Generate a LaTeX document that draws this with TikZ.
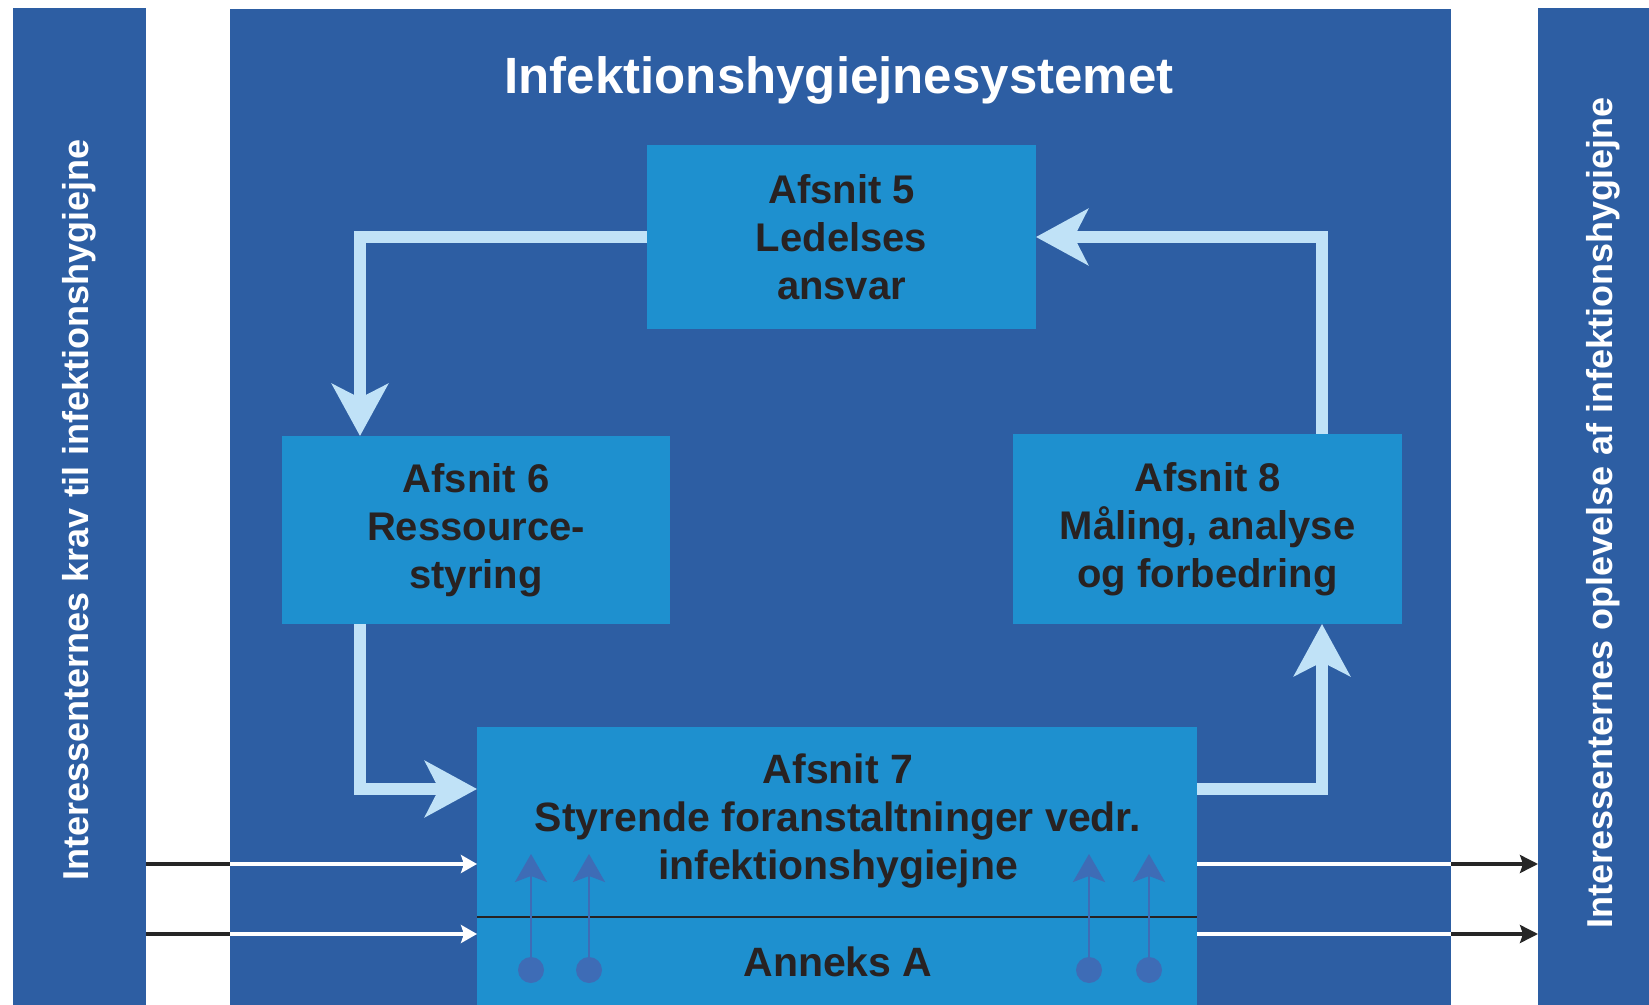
\documentclass[tikz,border=0pt]{standalone}
\usepackage{fontspec}
\setmainfont{Liberation Sans}
\usetikzlibrary{arrows.meta}
\definecolor{darkbg}{RGB}{45,94,163}
\definecolor{boxblue}{RGB}{30,144,207}
\definecolor{arrowlight}{RGB}{192,226,247}
\definecolor{txtdark}{RGB}{40,34,34}
\definecolor{dotblue}{RGB}{62,108,182}
\tikzset{
  panel/.style={fill=darkbg, draw=none, inner sep=0pt, outer sep=0pt},
  secbox/.style={fill=boxblue, draw=none, inner sep=0pt, outer sep=0pt, align=center,
    text=txtdark, font=\bfseries\fontsize{20pt}{24pt}\selectfont},
  sectxt/.style={inner sep=0pt, align=center, text=txtdark, font=\bfseries\fontsize{20.5pt}{24pt}\selectfont},
  sidetxt/.style={inner sep=0pt, text=white, rotate=90, font=\bfseries\fontsize{18pt}{20pt}\selectfont},
  bigarrow/.style={draw=arrowlight, line width=6pt, -{Stealth[length=26pt,width=28pt,inset=7pt]}},
  whitearrow/.style={draw=white, line width=1.6pt, -{Stealth[length=8pt,width=9pt,inset=1.5pt]}},
  blackline/.style={draw=black!85, line width=1.6pt},
  blackarrow/.style={draw=black!85, line width=1.6pt, -{Stealth[length=9pt,width=9pt,inset=1.5pt]}},
  smallarrow/.style={draw=dotblue, line width=1pt, -{Stealth[length=14pt,width=16pt,inset=3pt]}},
  dotnode/.style={circle, fill=dotblue, inner sep=0pt, minimum size=13pt},
}
\begin{document}
\begin{tikzpicture}[x=0.5pt, y=-0.5pt]
\useasboundingbox (0,0) rectangle (1649,1005);
\fill[white] (0,0) rectangle (1649,1005);

% panels
\node[panel, minimum width=66.5pt, minimum height=498.5pt] (lb) at (79.5,506.5) {};
\node[panel, minimum width=610.5pt, minimum height=498pt] (mb) at (840.5,507) {};
\node[panel, minimum width=55.5pt, minimum height=498.5pt] (rb) at (1593.5,506.5) {};

% side texts
\node[sidetxt] (lt) at (79,510) {Interessenternes krav til infektionshygiejne};
\node[sidetxt] (rt) at (1603,513) {Interessenternes oplevelse af infektionshygiejne};

% title
\node[inner sep=0pt, text=white, font=\bfseries\fontsize{25.5pt}{28pt}\selectfont] (title) at (839,80) {Infektionshygiejnesystemet};

% section boxes
\node[secbox, minimum width=194.5pt, minimum height=92pt] (b5) at (841.5,237) {Afsnit 5\\Ledelses\\ansvar};
\node[secbox, minimum width=194pt, minimum height=94pt] (b6) at (476,530) {Afsnit 6\\Ressource-\\styring};
\node[secbox, minimum width=194.5pt, minimum height=95pt] (b8) at (1207.5,529) {Afsnit 8\\Måling, analyse\\og forbedring};
\node[secbox, minimum width=360pt, minimum height=139pt] (b7) at (837,866) {};
\node[sectxt] (t7) at (838,821) {Afsnit 7\\Styrende foranstaltninger vedr.\\infektionshygiejne};
\node[sectxt] (ta) at (838,962) {Anneks A};

% divider line in box 7
\coordinate (dv) at (0,917);
\draw[draw=txtdark, line width=1pt] (b7.west |- dv) -- (b7.east |- dv);

% helper coordinates
\coordinate (vl) at (360,0);
\coordinate (vr) at (1322,0);
\coordinate (hb) at (0,789);
\coordinate (t1) at (0,864);
\coordinate (t2) at (0,934);

% cycle arrows
\draw[bigarrow] (b5.west) -| (vl |- b6.north);
\draw[bigarrow] (vl |- b6.south) |- (hb -| b7.west);
\draw[bigarrow] (hb -| b7.east) -| (vr |- b8.south);
\draw[bigarrow] (vr |- b8.north) |- (b5.east);

% input arrows
\draw[blackline] (lb.east |- t1) -- (mb.west |- t1);
\draw[whitearrow] (mb.west |- t1) -- (b7.west |- t1);
\draw[blackline] (lb.east |- t2) -- (mb.west |- t2);
\draw[whitearrow] (mb.west |- t2) -- (b7.west |- t2);

% output arrows
\draw[draw=white, line width=1.6pt] (b7.east |- t1) -- (mb.east |- t1);
\draw[blackarrow] (mb.east |- t1) -- (rb.west |- t1);
\draw[draw=white, line width=1.6pt] (b7.east |- t2) -- (mb.east |- t2);
\draw[blackarrow] (mb.east |- t2) -- (rb.west |- t2);

% small arrows with dots
\node[dotnode] (d1) at (531,970) {};
\node[dotnode] (d2) at (589,970) {};
\node[dotnode] (d3) at (1089,970) {};
\node[dotnode] (d4) at (1149,970) {};
\coordinate (a1) at (531,854);
\coordinate (a2) at (589,854);
\coordinate (a3) at (1089,854);
\coordinate (a4) at (1149,854);
\draw[smallarrow] (d1.center) -- (a1);
\draw[smallarrow] (d2.center) -- (a2);
\draw[smallarrow] (d3.center) -- (a3);
\draw[smallarrow] (d4.center) -- (a4);
\end{tikzpicture}
\end{document}
